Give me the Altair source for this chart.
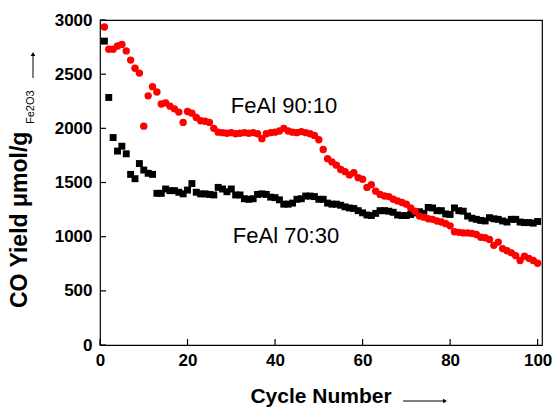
import altair as alt
import pandas as pd

# ---- data ----
cycles = list(range(1, 101))

feal_90_10 = [2935, 2730, 2730, 2760, 2775, 2715, 2630, 2555, 2510, 2020,
              2300, 2385, 2335, 2225, 2235, 2205, 2180, 2150, 2055, 2155,
              2140, 2100, 2070, 2065, 2055, 2000, 1965, 1960, 1955, 1960,
              1950, 1955, 1960, 1955, 1960, 1950, 1905, 1950, 1960, 1965,
              1975, 2000, 1975, 1965, 1960, 1970, 1960, 1950, 1935, 1895,
              1805, 1720, 1690, 1660, 1620, 1600, 1570, 1590, 1545, 1530,
              1455, 1480, 1420, 1390, 1375, 1370, 1345, 1330, 1315, 1300,
              1265, 1235, 1190, 1180, 1165, 1160, 1145, 1135, 1120, 1100,
              1045, 1040, 1035, 1035, 1030, 1020, 995, 990, 975, 920,
              950, 890, 870, 850, 825, 780, 820, 800, 780, 755]

feal_70_30 = [2805, 2285, 1915, 1790, 1835, 1765, 1575, 1535, 1675, 1615,
              1585, 1575, 1400, 1400, 1440, 1425, 1425, 1410, 1395, 1430,
              1490, 1410, 1395, 1395, 1390, 1385, 1455, 1440, 1415, 1440,
              1385, 1385, 1350, 1345, 1350, 1390, 1395, 1390, 1365, 1360,
              1340, 1300, 1300, 1310, 1345, 1350, 1375, 1375, 1370, 1345,
              1345, 1310, 1300, 1300, 1290, 1275, 1265, 1260, 1240, 1220,
              1200, 1195, 1215, 1240, 1240, 1235, 1225, 1200, 1195, 1195,
              1205, 1220, 1230, 1215, 1270, 1265, 1240, 1240, 1210, 1205,
              1265, 1240, 1235, 1190, 1170, 1160, 1150, 1145, 1175, 1165,
              1160, 1145, 1135, 1160, 1160, 1135, 1130, 1130, 1125, 1140]

x_ticks = [0, 20, 40, 60, 80, 100]
y_ticks = [0, 500, 1000, 1500, 2000, 2500, 3000]

W, H = 442, 325
FONT = "Liberation Sans"

df90 = pd.DataFrame({"cycle": cycles, "yield": feal_90_10})
df70 = pd.DataFrame({"cycle": cycles, "yield": feal_70_30})

xs = alt.Scale(domain=[0, 101], nice=False, zero=False)
ys = alt.Scale(domain=[0, 3000], nice=False)

x_axis = alt.Axis(values=x_ticks, ticks=False, tickSize=0, domain=False, grid=False,
                  labelFont=FONT, labelFontSize=17, labelFontWeight="bold",
                  labelColor="black", labelPadding=7, labelFlush=False,
                  labelOverlap=False, title=None, format="d")
y_axis = alt.Axis(values=y_ticks, ticks=False, tickSize=0, domain=False, grid=False,
                  labelFont=FONT, labelFontSize=17, labelFontWeight="bold",
                  labelColor="black", labelPadding=8, labelOverlap=False, title=None,
                  format="d")

black = alt.Chart(df70).mark_square(size=48, color="black", opacity=1).encode(
    x=alt.X("cycle:Q", scale=xs, axis=x_axis),
    y=alt.Y("yield:Q", scale=ys, axis=y_axis),
)
red = alt.Chart(df90).mark_circle(size=55, color="#ff0000", opacity=1).encode(
    x=alt.X("cycle:Q"),
    y=alt.Y("yield:Q"),
)

# inward ticks
xt = alt.Chart(pd.DataFrame({"cycle": x_ticks})).mark_rule(color="black", strokeWidth=1.2).encode(
    x=alt.X("cycle:Q"), y=alt.value(H), y2=alt.value(H - 6))
yt = alt.Chart(pd.DataFrame({"yield": y_ticks})).mark_rule(color="black", strokeWidth=1.2).encode(
    y=alt.Y("yield:Q"), x=alt.value(0), x2=alt.value(6))

one = alt.Data(values=[{"a": 1}])

def txt(s, x, y, size, weight="normal", angle=0, align="center", baseline="alphabetic"):
    kw = dict(text=s, font=FONT, fontSize=size, fontWeight=weight, align=align,
              baseline=baseline, color="black")
    if angle:
        kw["angle"] = angle
    return alt.Chart(one).mark_text(**kw).encode(x=alt.value(x), y=alt.value(y))

lab90 = txt("FeAl 90:10", 184, 93, 22)
lab70 = txt("FeAl 70:30", 186, 223, 22)
xtitle = txt("Cycle Number", 221, 383, 21, weight="bold")
ytitle = txt("CO Yield μmol/g", -73, 288, 23, weight="bold", angle=270, align="left")
ysub = txt("Fe2O3", -66, 104, 11, angle=270, align="left")

# title arrows
xarrow_line = alt.Chart(one).mark_rule(color="black", strokeWidth=1).encode(
    x=alt.value(303), x2=alt.value(343), y=alt.value(381))
xarrow_head = alt.Chart(one).mark_point(shape="triangle-right", filled=True, size=22,
                                        color="black", opacity=1).encode(
    x=alt.value(345), y=alt.value(381))
yarrow_line = alt.Chart(one).mark_rule(color="black", strokeWidth=1).encode(
    x=alt.value(-67), y=alt.value(58), y2=alt.value(36))
yarrow_head = alt.Chart(one).mark_point(shape="triangle-up", filled=True, size=22,
                                        color="black", opacity=1).encode(
    x=alt.value(-67), y=alt.value(34))

chart = alt.layer(
    black, red, xt, yt, lab90, lab70, xtitle, ytitle, ysub,
    xarrow_line, xarrow_head, yarrow_line, yarrow_head
).properties(
    width=W, height=H,
    autosize=alt.AutoSizeParams(type="none"),
    padding={"left": 100, "top": 20, "right": 14, "bottom": 66},
    background="white",
).configure_view(stroke="black", strokeWidth=1.2)

chart.save("out.html", embed_options={"renderer": "svg", "actions": False})
